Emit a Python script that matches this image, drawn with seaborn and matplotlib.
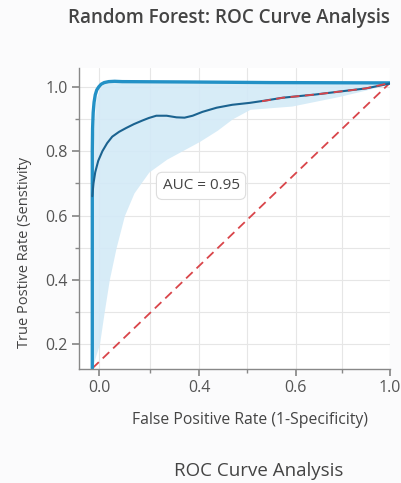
import matplotlib
matplotlib.use("Agg")
import matplotlib.pyplot as plt
import seaborn as sns

# ---- data ----
# outer (upper) ROC envelope
outer_fpr = [0.0, 0.0, 0.0, 0.001, 0.003, 0.006, 0.01, 0.015, 0.022, 0.03, 0.04,
             0.055, 0.075, 0.1, 0.3, 0.6, 1.0]
outer_tpr = [0.125, 0.5, 0.8, 0.87, 0.92, 0.952, 0.975, 0.99, 1.0, 1.008, 1.013,
             1.016, 1.017, 1.016, 1.015, 1.013, 1.012]

# mean ROC curve
mean_fpr = [0.0, 0.004, 0.01, 0.02, 0.034, 0.05, 0.067, 0.09, 0.114, 0.14, 0.168,
            0.19, 0.215, 0.25, 0.283, 0.31, 0.337, 0.37, 0.418, 0.47, 0.529, 0.58,
            0.64, 0.75, 0.83, 0.92, 1.0]
mean_tpr = [0.66, 0.70, 0.735, 0.77, 0.80, 0.825, 0.845, 0.86, 0.872, 0.884, 0.895,
            0.903, 0.91, 0.91, 0.905, 0.904, 0.91, 0.922, 0.935, 0.944, 0.95, 0.957,
            0.966, 0.976, 0.985, 0.995, 1.01]

# shaded band (lower and upper edge)
band_fpr = [0.0, 0.004, 0.012, 0.024, 0.04, 0.057, 0.08, 0.108, 0.14, 0.19, 0.25,
            0.30, 0.36, 0.42, 0.47, 0.53, 0.60, 0.67, 0.75, 0.83, 0.92, 1.0]
band_low = [0.125, 0.14, 0.165, 0.2, 0.3, 0.4, 0.5, 0.6, 0.67, 0.735, 0.775,
            0.80, 0.83, 0.865, 0.90, 0.93, 0.935, 0.94, 0.955, 0.97, 0.99, 1.01]
band_high = [0.6, 0.85, 0.96, 0.995, 1.012, 1.016, 1.017, 1.016, 1.016, 1.015, 1.015,
             1.015, 1.015, 1.014, 1.014, 1.014, 1.013, 1.013, 1.013, 1.012, 1.012, 1.012]

# dashed tail of the mean curve
tail_fpr = [0.57, 0.64, 0.75, 0.83, 0.92, 1.0]
tail_tpr = [0.955, 0.966, 0.976, 0.985, 0.995, 1.012]

# chance line
chance_fpr = [0.0, 1.0]
chance_tpr = [0.125, 1.012]

auc_text = "AUC = 0.95"
xtick_pos = [0.024, 0.36, 0.683, 1.0]
xtick_lab = ["0.0", "0.4", "0.6", "1.0"]
xminor_pos = [0.195, 0.52, 0.84]
ytick_pos = [0.2, 0.4, 0.6, 0.8, 1.0]
yminor_pos = [0.3, 0.5, 0.7, 0.9]

sns.set_theme(style="whitegrid")
plt.rcParams['font.family'] = ['Open Sans', 'DejaVu Sans']

fig = plt.figure(figsize=(4.02, 4.83), dpi=100, facecolor="#fbfbfc")
ax = fig.add_axes([0.197, 0.236, 0.773, 0.623])
ax.set_facecolor("white")

# confidence band
ax.fill_between(band_fpr, band_low, band_high, color="#d3eaf7", alpha=0.9, lw=0)

sns.lineplot(x=chance_fpr, y=chance_tpr, ax=ax, color="#d9454a",
             linestyle=(0, (5, 3)), lw=1.3, sort=False, estimator=None)
sns.lineplot(x=outer_fpr, y=outer_tpr, ax=ax, color="#2391c6", lw=2.4,
             sort=False, estimator=None)
sns.lineplot(x=mean_fpr, y=mean_tpr, ax=ax, color="#1b6390", lw=1.5,
             sort=False, estimator=None)
sns.lineplot(x=tail_fpr, y=tail_tpr, ax=ax, color="#d9454a",
             linestyle=(0, (5, 3)), lw=1.3, sort=False, estimator=None)

ax.text(0.236, 0.692, auc_text, fontsize=11, color="#444444", va="center",
        bbox=dict(boxstyle="round,pad=0.4", fc="white", ec="#dddddd", lw=0.8))

ax.set_xlim(-0.044, 1.0)
ax.set_ylim(0.123, 1.058)
ax.set_xticks(xtick_pos)
ax.set_xticklabels(xtick_lab)
ax.set_xticks(xminor_pos, minor=True)
ax.set_yticks(ytick_pos)
ax.set_yticklabels([f"{v:.1f}" for v in ytick_pos])
ax.set_yticks(yminor_pos, minor=True)
ax.tick_params(axis="both", which="major", labelsize=11.5, labelcolor="#555555",
               length=5, color="#888888", bottom=True, left=True, pad=3)
ax.tick_params(axis="both", which="minor", length=3, color="#888888",
               bottom=True, left=True)
ax.grid(True, which="both", color="#e6e6e6", lw=0.8)
ax.set_axisbelow(True)
for s in ["top", "right"]:
    ax.spines[s].set_visible(False)
for s in ["left", "bottom"]:
    ax.spines[s].set_color("#888888")
    ax.spines[s].set_linewidth(1.0)

fig.text(0.57, 0.963, "Random Forest: ROC Curve Analysis", ha="center", va="center",
         fontsize=13.5, fontweight="semibold", color="#444444")
fig.text(0.06, 0.478, "True Postive Rate (Senstivity", rotation=90, ha="center",
         va="center", fontsize=10.5, color="#444444")
fig.text(0.623, 0.130, "False Positive Rate (1-Specificity)", ha="center", va="center",
         fontsize=11.3, color="#444444")
fig.text(0.644, 0.025, "ROC Curve Analysis", ha="center", va="center",
         fontsize=13.5, color="#444444")

fig.savefig("out.png", dpi=100, facecolor=fig.get_facecolor())
